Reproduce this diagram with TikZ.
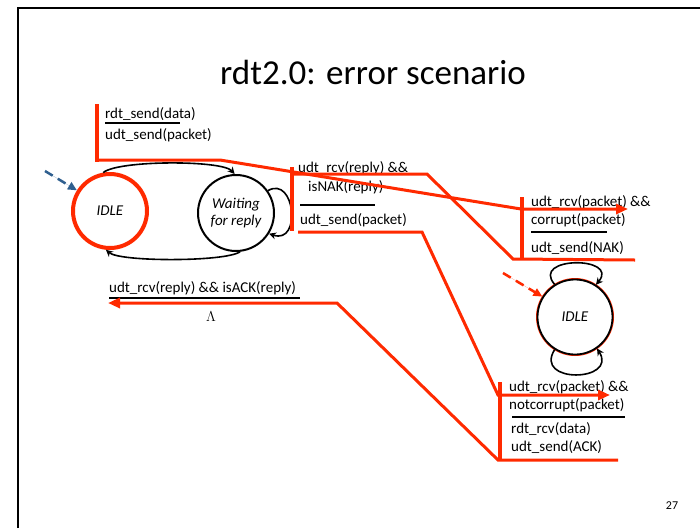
\documentclass[tikz,border=0pt]{standalone}
\usepackage{fontspec}
\setmainfont{Carlito}
\usetikzlibrary{arrows.meta}
\definecolor{flow}{HTML}{FF2A00}
\definecolor{initblue}{HTML}{2F5F8F}
\begin{document}
\begin{tikzpicture}[x=1pt,y=-1pt,
  lbl/.style={anchor=west,inner sep=0pt,font=\fontsize{15}{18}\selectfont},
  state/.style={circle,inner sep=0pt,font=\fontsize{15}{17}\selectfont\itshape},
  msg/.style={draw=flow,line width=3pt,line join=miter},
  bar/.style={draw=flow,line width=4.5pt},
  rule/.style={draw=black,line width=1.8pt},
  loopedge/.style={draw=black,line width=1.6pt,-{Stealth[length=7pt,width=7pt]}},
  redtip/.style={-{Triangle[length=12pt,width=10pt]}},
  initedge/.style={line width=2.5pt,dash pattern=on 9pt off 6pt,-{Triangle[length=9pt,width=8pt]}}
]
\useasboundingbox (0,0) rectangle (700,528);
% slide frame
\draw[line width=2pt] (18,528) -- (18,8) -- (700,8);

\node[font=\fontsize{35}{42}\selectfont] (title) at (373,72) {rdt2.0: error scenario};
\node[font=\fontsize{12}{14}\selectfont] (pg) at (672,506) {27};

% sender states
\node[state,draw=flow,line width=4pt,minimum size=74pt] (sidle) at (110,211) {IDLE};
\node[state,draw=black,line width=2pt,minimum size=76pt,align=center] (wait) at (236,213) {Waiting\\for reply};

% receiver state
\node[state,draw=flow,line width=1pt,minimum size=77pt] (ridleo) at (575,317) {};
\node[state,draw=black,line width=1.8pt,minimum size=75pt] (ridle) at (575,317) {IDLE};

% sender transitions
\draw[loopedge] (sidle.100) .. controls (118,160) and (222,160) .. (wait.92);
\draw[loopedge] (wait.-84) .. controls (225,262) and (120,262) .. (sidle.-96);
\draw[loopedge] (wait.35) .. controls (295,175) and (302,245) .. (wait.-32);

% receiver self loops
\draw[loopedge] (ridle.122) .. controls (530,256) and (620,256) .. (ridle.57);
\draw[loopedge] (ridle.-122) .. controls (533,384) and (618,382) .. (ridle.-55);

% initial-state arrows
\coordinate (sinit) at (45,171);
\coordinate (rinit) at (503,273);
\draw[initedge,draw=initblue,fill=initblue] (sinit) -- (sidle.148);
\draw[initedge,draw=flow,fill=flow] (rinit) -- (ridle.148);

% transition labels
\node[lbl] (l1a) at (105,114) {rdt\_send(data)};
\node[lbl] (l1b) at (105,135) {udt\_send(packet)};
\node[lbl] (l2a) at (298,168) {udt\_rcv(reply) \&\&};
\node[lbl] (l2b) at (308,187) {isNAK(reply)};
\node[lbl] (l2c) at (300,220) {udt\_send(packet)};
\node[lbl] (l3a) at (531,202) {udt\_rcv(packet) \&\&};
\node[lbl] (l3b) at (531,220) {corrupt(packet)};
\node[lbl] (l3c) at (531,248) {udt\_send(NAK)};
\node[lbl] (l4a) at (509,387) {udt\_rcv(packet) \&\&};
\node[lbl] (l4b) at (509,405) {notcorrupt(packet)};
\node[lbl] (l4c) at (511,429) {rdt\_rcv(data)};
\node[lbl] (l4d) at (511,447) {udt\_send(ACK)};
\node[lbl] (l5a) at (109,288) {udt\_rcv(reply) \&\& isACK(reply)};
\node[inner sep=0pt,font=\fontsize{15}{18}\selectfont] (lam) at (211,317) {$\Lambda$};

% event / action separators
\draw[rule] (105,123) -- (180,123);
\draw[rule] (300,205) -- (375,205);
\draw[rule] (531,232) -- (607,232);
\draw[rule] (512,417) -- (625,417);
\draw[rule] (109,298) -- (300,298);

% label bars
\draw[bar] (97,104) -- (97,162);
\draw[bar] (292,167) -- (292,231);
\draw[bar] (522,197) -- (522,259);
\draw[bar] (500,382) -- (500,461);

% message timeline
\coordinate (d0) at (97,160);
\coordinate (d1) at (220,160);
\coordinate (d2) at (521,209);
\coordinate (d3) at (628,209);
\draw[msg,redtip] (d0) -- (d1) -- (d2) -- (d3);

\coordinate (n0) at (635,260);
\coordinate (n1) at (513,259);
\coordinate (n2) at (427,174);
\coordinate (n3) at (292,174);
\draw[msg] (n0) -- (n1) -- (n2) -- (n3);

\coordinate (r0) at (298,232);
\coordinate (r1) at (422,232);
\coordinate (r2) at (498,395);
\coordinate (r3) at (610,395);
\draw[msg,redtip] (r0) -- (r1) -- (r2) -- (r3);

\coordinate (a0) at (618,460);
\coordinate (a1) at (498,460);
\coordinate (a2) at (337,303);
\coordinate (a3) at (108,303);
\draw[msg,redtip] (a0) -- (a1) -- (a2) -- (a3);
\end{tikzpicture}
\end{document}
